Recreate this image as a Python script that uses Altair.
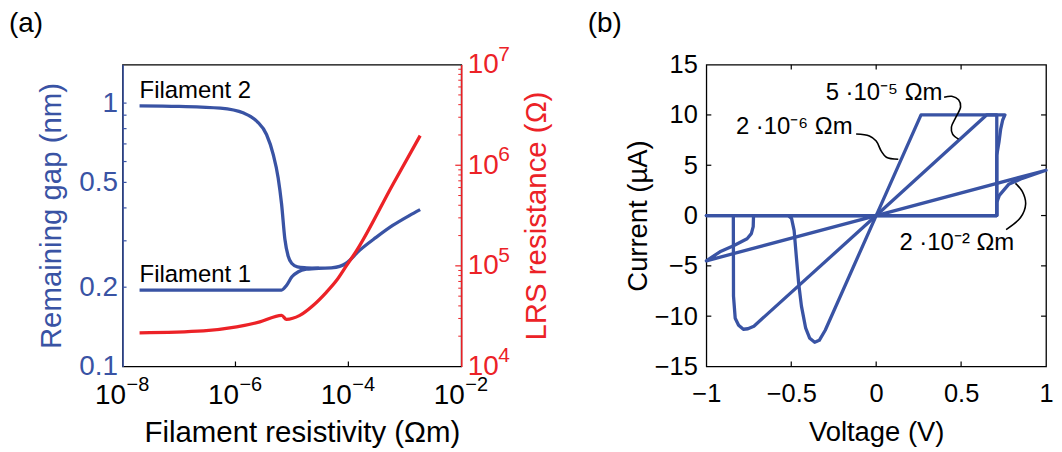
import math
import altair as alt
import pandas as pd

BLUE = "#3953a4"
RED = "#ec2227"
FONT = "Liberation Sans"

# ---------------- panel (a) data ----------------
fil2_rho = [2e-8, 1e-7, 5.4e-7, 1.4e-6, 2.4e-6, 3.55e-6, 4.66e-6, 5.7e-6, 6.56e-6, 7.5e-6,
            8.6e-6, 1.0e-5, 1.25e-5, 1.8e-5, 3e-5, 5e-5, 7e-5, 9e-5, 1.58e-4, 3.1e-4,
            6.1e-4, 1.2e-3, 1.87e-3]
fil2_gap = [0.977, 0.972, 0.957, 0.917, 0.853, 0.760, 0.639, 0.521, 0.414, 0.305,
            0.262, 0.246, 0.239, 0.237, 0.236, 0.237, 0.240, 0.246, 0.276, 0.309,
            0.343, 0.374, 0.394]
fil1_rho = [2e-8, 1e-6, 6.56e-6, 8.0e-6, 1.0e-5, 1.3e-5, 1.8e-5, 3e-5]
fil1_gap = [0.195, 0.195, 0.195, 0.203, 0.219, 0.229, 0.234, 0.236]
lrs_rho = [2e-8, 2.7e-7, 1.05e-6, 2.7e-6, 6.56e-6, 8.0e-6, 1.38e-5, 2.37e-5, 4.07e-5,
           6.1e-5, 9.2e-5, 1.38e-4, 6.1e-4, 1.87e-3]
lrs_res = [2.16e4, 2.26e4, 2.47e4, 2.77e4, 3.22e4, 2.94e4, 3.22e4, 4.04e4, 5.46e4,
           7.1e4, 1.0e5, 1.4e5, 6.4e5, 1.97e6]

fil_names = ["Filament 2", "Filament 1"]
fil_label_rho = [2e-8, 2e-8]
fil_label_gap = [1.044, 0.209]

rho_ticks = [1e-8, 1e-6, 1e-4, 1e-2]
rho_tick_base = "10"
rho_tick_exps = ["−8", "−6", "−4", "−2"]
rho_inner_ticks = [1e-6, 1e-4]
gap_ticks = [0.1, 0.2, 0.5, 1]
gap_minor_ticks = [0.2, 0.3, 0.4, 0.5, 0.6, 0.7, 0.8, 0.9, 1.0]
res_ticks = [1e4, 1e5, 1e6, 1e7]
res_tick_base = "10"
res_tick_exps = ["4", "5", "6", "7"]
res_major_inner = [1e5, 1e6]
res_minor_ticks = [2e4, 3e4, 4e4, 5e4, 6e4, 7e4, 8e4, 9e4,
                   2e5, 3e5, 4e5, 5e5, 6e5, 7e5, 8e5, 9e5,
                   2e6, 3e6, 4e6, 5e6, 6e6, 7e6, 8e6, 9e6]

# ---------------- panel (b) data ----------------
c1_name = "2e-6"
c1_V = [0.0, 0.71, 0.71, 0.264, 0.0, -0.30, -0.335, -0.362, -0.391, -0.415, -0.44,
        -0.456, -0.47, -0.483, -0.498, -0.518, -1.0, 0.0]
c1_I = [0.0, 0.0, 10.0, 10.0, 0.0, -11.4, -12.4, -12.6, -12.2, -11.2, -9.0,
        -6.8, -4.1, -1.5, -0.3, 0.0, 0.0, 0.0]
c2_name = "5e-5"
c2_V = [0.0, 0.71, 0.71, 0.723, 0.733, 0.745, 0.758, 0.65, 0.0, -0.72, -0.755,
        -0.782, -0.81, -0.83, -0.84, -0.841, -1.0, 0.0]
c2_I = [0.0, 0.0, 6.0, 7.3, 8.6, 9.5, 10.0, 10.0, 0.0, -11.0, -11.25,
        -11.3, -10.9, -10.2, -8.0, 0.0, 0.0, 0.0]
c3_name = "2e-2"
c3_V = [0.0, 0.71, 0.71, 0.725, 0.78, 0.86, 1.0, 0.0, -1.0, -0.92, -0.84, -0.76,
        -0.735, -0.724, -0.722, 0.0]
c3_I = [0.0, 0.0, 1.3, 2.0, 3.1, 3.7, 4.5, 0.0, -4.5, -3.6, -3.0, -2.3,
        -1.8, -1.1, 0.0, 0.0]

ld1_V = [0.40, 0.445, 0.485, 0.497, 0.47, 0.443, 0.45, 0.485]
ld1_I = [11.75, 11.85, 11.5, 10.8, 9.8, 8.8, 8.1, 7.6]
ld2_V = [-0.118, -0.04, 0.0, 0.03, 0.06, 0.13]
ld2_I = [8.1, 7.9, 7.4, 6.4, 5.8, 5.6]
ld3_V = [0.765, 0.85, 0.88, 0.86, 0.82]
ld3_I = [-1.4, -0.2, 1.15, 2.4, 3.2]

ann_r_text = ["5 ·10⁻⁵ Ωm", "2 ·10⁻⁶ Ωm"]
ann_r_V = [0.39, -0.139]
ann_r_I = [11.5, 8.1]
ann_l_text = ["2 ·10⁻² Ωm"]
ann_l_V = [0.137]
ann_l_I = [-3.47]

v_ticks = [-1, -0.5, 0, 0.5, 1]
v_inner = [-0.5, 0, 0.5]
i_ticks = [-15, -10, -5, 0, 5, 10, 15]
i_inner = [-10, -5, 0, 5, 10]

panel_labels = ["(a)", "(b)"]

W_A, H_A = 340, 303
W_B, H_B = 341, 303

# ---------------- panel (a) ----------------
x_rho = alt.X(
    "rho:Q",
    scale=alt.Scale(type="log", domain=[1e-8, 1e-2], nice=False),
    axis=alt.Axis(values=rho_ticks, labelExpr=f"'{rho_tick_base}'",
                  labelAlign="right", labelOffset=3,
                  title="Filament resistivity (Ωm)", titleX=180,
                  ticks=False, tickSize=0, domain=False, grid=False,
                  labelFontSize=28, titleFontSize=29.5,
                  labelPadding=15, minExtent=38, maxExtent=38, titlePadding=14,
                  labelFlush=False, labelOverlap=False),
)
y_gap = alt.Y(
    "gap:Q",
    scale=alt.Scale(type="log", domain=[0.1, 1.4], nice=False),
    axis=alt.Axis(values=gap_ticks, format="~g", title="Remaining gap (nm)",
                  titleColor=BLUE, labelColor=BLUE, domainColor=BLUE, domainWidth=1.5,
                  labelFontSize=28, titleFontSize=29.5,
                  ticks=False, tickSize=0, labelPadding=5, minExtent=44, maxExtent=44,
                  titlePadding=12.5, grid=False, labelOverlap=False),
)
y_res = alt.Y(
    "res:Q",
    scale=alt.Scale(type="log", domain=[1e4, 1e7], nice=False),
    axis=alt.Axis(orient="right", values=res_ticks, labelExpr=f"'{res_tick_base}'",
                  title="LRS resistance (Ω)", titleColor=RED, labelColor=RED,
                  domainColor=RED, domainWidth=1.5, ticks=False, tickSize=0,
                  labelFontSize=28, titleFontSize=29.5,
                  labelPadding=6, minExtent=46, maxExtent=46, titlePadding=16,
                  titleAngle=270, titleBaseline="top", grid=False, labelOverlap=False),
)

fil_df = pd.DataFrame({
    "rho": fil2_rho + fil1_rho,
    "gap": fil2_gap + fil1_gap,
    "fil": [fil_names[0]] * len(fil2_rho) + [fil_names[1]] * len(fil1_rho),
})
fil_lab_df = pd.DataFrame({"rho": fil_label_rho, "gap": fil_label_gap, "t": fil_names})
lrs_df = pd.DataFrame({"rho": lrs_rho, "res": lrs_res})

xt_a = alt.Chart(pd.DataFrame({"rho": rho_inner_ticks})).mark_rule(
    color="black", strokeWidth=1.2).encode(x=x_rho, y=alt.value(H_A), y2=alt.value(H_A - 5))
x_exp = alt.Chart(pd.DataFrame({"rho": rho_ticks, "e": rho_tick_exps})).mark_text(
    align="left", baseline="alphabetic", fontSize=20, dx=4, color="black").encode(
    x=x_rho, y=alt.value(H_A + 25), text="e:N")
gt_a = alt.Chart(pd.DataFrame({"gap": gap_minor_ticks})).mark_rule(
    color=BLUE, strokeWidth=1.2).encode(y=y_gap, x=alt.value(0), x2=alt.value(4))
gap_lines = alt.Chart(fil_df).mark_line(
    color=BLUE, strokeWidth=3.3, interpolate="monotone").encode(x=x_rho, y=y_gap, detail="fil:N")
fil_text = alt.Chart(fil_lab_df).mark_text(
    align="left", baseline="alphabetic", fontSize=24, color="black").encode(
    x=x_rho, y=y_gap, text="t:N")
lab_a = alt.Chart(pd.DataFrame({"t": [panel_labels[0]]})).mark_text(
    align="left", baseline="top", fontSize=28, color="black").encode(
    x=alt.value(-114), y=alt.value(-55), text="t:N")

rt_major = alt.Chart(pd.DataFrame({"res": res_major_inner})).mark_rule(
    color=RED, strokeWidth=1.2).encode(y=y_res, x=alt.value(W_A), x2=alt.value(W_A - 6))
rt_minor = alt.Chart(pd.DataFrame({"res": res_minor_ticks})).mark_rule(
    color=RED, strokeWidth=1.0).encode(y=y_res, x=alt.value(W_A), x2=alt.value(W_A - 3))
r_exp = alt.Chart(pd.DataFrame({"res": res_ticks, "e": res_tick_exps})).mark_text(
    align="left", baseline="alphabetic", fontSize=21, dy=-4, color=RED).encode(
    x=alt.value(W_A + 37), y=y_res, text="e:N")
lrs_line = alt.Chart(lrs_df).mark_line(
    color=RED, strokeWidth=3.3, interpolate="monotone").encode(x=x_rho, y=y_res)

blue_group = alt.layer(xt_a, x_exp, gt_a, gap_lines, fil_text, lab_a)
red_group = alt.layer(rt_minor, rt_major, r_exp, lrs_line)
panel_a = alt.layer(blue_group, red_group).resolve_scale(y="independent").properties(
    width=W_A, height=H_A)

# ---------------- panel (b) ----------------
x_v = alt.X(
    "V:Q",
    scale=alt.Scale(domain=[-1, 1], nice=False, zero=False),
    axis=alt.Axis(values=v_ticks, format="~g", title="Voltage (V)", ticks=False, tickSize=0,
                  domain=False, grid=False, labelFontSize=25.5, titleFontSize=27.5,
                  labelPadding=15, minExtent=38, maxExtent=38,
                  titlePadding=14.7, labelFlush=False, labelOverlap=False),
)
y_i = alt.Y(
    "I:Q",
    scale=alt.Scale(domain=[-15, 15], nice=False, zero=False),
    axis=alt.Axis(values=i_ticks, format="~g", title="Current (µA)", ticks=False, tickSize=0,
                  domain=False, grid=False, labelFontSize=25.5, titleFontSize=27.5,
                  labelPadding=9, minExtent=50, maxExtent=50,
                  titlePadding=4, labelOverlap=False),
)

rows = []
for name, vs, cs in [(c1_name, c1_V, c1_I), (c2_name, c2_V, c2_I), (c3_name, c3_V, c3_I)]:
    for k, (v, c) in enumerate(zip(vs, cs)):
        rows.append({"V": v, "I": c, "curve": name, "k": k})
iv_df = pd.DataFrame(rows)

lrows = []
for name, vs, cs in [("l1", ld1_V, ld1_I), ("l2", ld2_V, ld2_I), ("l3", ld3_V, ld3_I)]:
    for k, (v, c) in enumerate(zip(vs, cs)):
        lrows.append({"V": v, "I": c, "lead": name, "k": k})
lead_df = pd.DataFrame(lrows)

tb_bottom = alt.Chart(pd.DataFrame({"V": v_inner})).mark_rule(color="black", strokeWidth=1.2).encode(
    x=x_v, y=alt.value(H_B), y2=alt.value(H_B - 5))
tb_top = alt.Chart(pd.DataFrame({"V": v_inner})).mark_rule(color="black", strokeWidth=1.2).encode(
    x=x_v, y=alt.value(0), y2=alt.value(5))
tb_left = alt.Chart(pd.DataFrame({"I": i_inner})).mark_rule(color="black", strokeWidth=1.2).encode(
    y=y_i, x=alt.value(0), x2=alt.value(5))
tb_right = alt.Chart(pd.DataFrame({"I": i_inner})).mark_rule(color="black", strokeWidth=1.2).encode(
    y=y_i, x=alt.value(W_B), x2=alt.value(W_B - 5))

iv_lines = alt.Chart(iv_df).mark_line(color=BLUE, strokeWidth=3.3, strokeJoin="round").encode(
    x=x_v, y=y_i, detail="curve:N", order="k:Q")
leaders = alt.Chart(lead_df).mark_line(color="black", strokeWidth=1.6,
                                       interpolate="catmull-rom").encode(
    x=x_v, y=y_i, detail="lead:N", order="k:Q")
ann_r = alt.Chart(pd.DataFrame({"V": ann_r_V, "I": ann_r_I, "t": ann_r_text})).mark_text(
    align="right", baseline="alphabetic", fontSize=24, color="black").encode(
    x=x_v, y=y_i, text="t:N")
ann_l = alt.Chart(pd.DataFrame({"V": ann_l_V, "I": ann_l_I, "t": ann_l_text})).mark_text(
    align="left", baseline="alphabetic", fontSize=24, color="black").encode(
    x=x_v, y=y_i, text="t:N")
lab_b = alt.Chart(pd.DataFrame({"t": [panel_labels[1]]})).mark_text(
    align="left", baseline="top", fontSize=28, color="black").encode(
    x=alt.value(-119), y=alt.value(-55), text="t:N")

panel_b = alt.layer(tb_bottom, tb_top, tb_left, tb_right, iv_lines, leaders, ann_r, ann_l,
                    lab_b).properties(width=W_B, height=H_B)

chart = alt.hconcat(panel_a, panel_b, spacing=34).properties(
    padding={"left": 0, "top": 0, "right": 0, "bottom": 0}
).configure_view(stroke="black", strokeWidth=1.3).configure_axis(
    labelFont=FONT, titleFont=FONT, titleFontWeight="normal",
    labelColor="black", titleColor="black"
).configure_text(font=FONT)

chart.save("out.html", embed_options={"renderer": "svg", "actions": False})
